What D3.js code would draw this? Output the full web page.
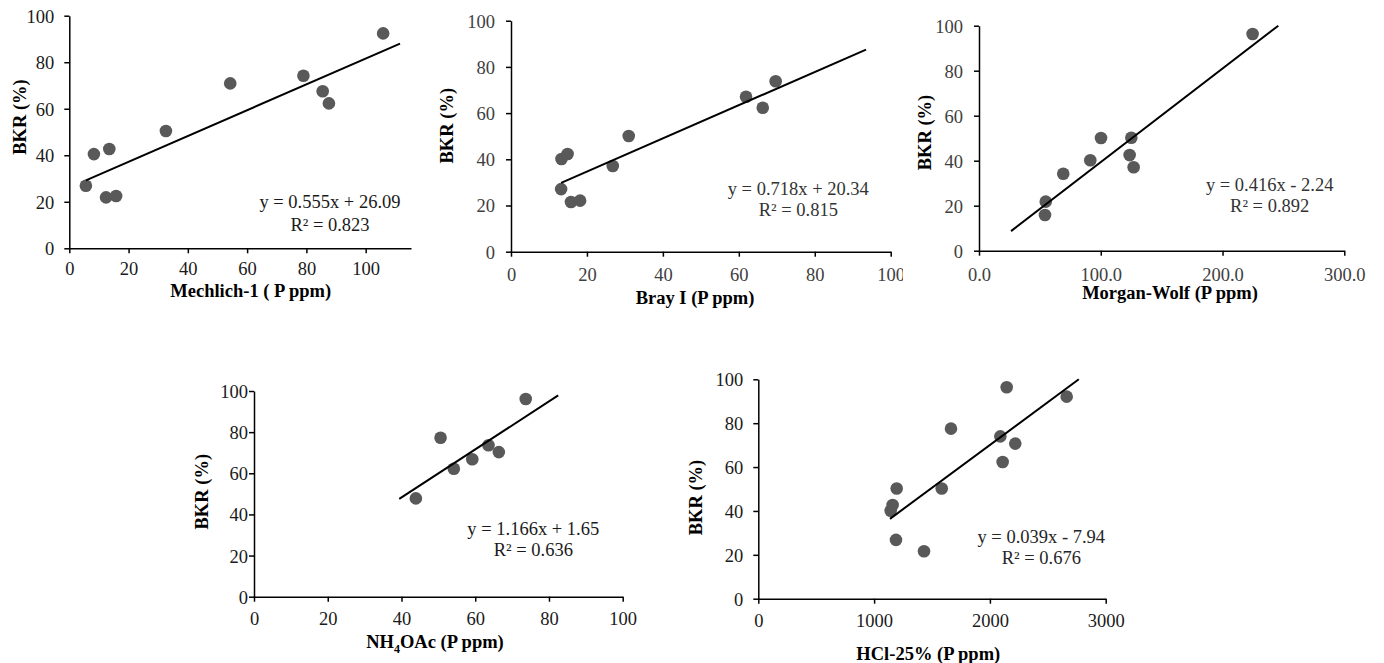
<!DOCTYPE html>
<html>
<head>
<meta charset="utf-8">
<script src="https://cdn.jsdelivr.net/npm/d3@7"></script>
<style>
  html, body { margin: 0; padding: 0; background: #fff; }
  svg { display: block; }
  text { font-family: "Liberation Serif", "Times New Roman", serif; }
</style>
</head>
<body>
<svg id="chart" width="1384" height="663"></svg>
<script>
// ---------------- data ----------------
const mechlichX = [5.6, 8.3, 13.5, 12.4, 15.8, 32.6, 54.3, 79.0, 85.5, 87.6, 105.9];
const mechlichY = [26.9, 40.5, 42.7, 21.9, 22.5, 50.4, 70.9, 74.2, 67.5, 62.3, 92.4];
const brayX = [13.2, 13.3, 14.9, 15.8, 18.2, 26.8, 31.0, 61.9, 66.3, 69.7];
const brayY = [27.1, 40.1, 42.3, 21.5, 22.1, 37.1, 50.1, 67.1, 62.3, 73.8];
const morganX = [54.2, 54.8, 69.2, 91.4, 100.2, 123.7, 125.1, 127.0, 224.7];
const morganY = [15.9, 21.8, 34.2, 40.2, 50.1, 42.5, 50.2, 37.1, 96.3];
const nh4X = [43.9, 50.6, 54.2, 59.2, 63.6, 66.4, 73.7];
const nh4Y = [47.8, 77.3, 62.2, 66.8, 73.6, 70.3, 96.1];
const hclX = [1143, 1160, 1189, 1195, 1431, 1584, 1664, 2090, 2110, 2145, 2219, 2663];
const hclY = [40.1, 42.7, 26.8, 50.2, 21.6, 50.2, 77.5, 74.0, 62.3, 96.4, 70.7, 92.1];

const slopes = [0.555, 0.718, 0.416, 1.166, 0.039];
const intercepts = [26.09, 20.34, -2.24, 1.65, -7.94];
const rSquared = [0.823, 0.815, 0.892, 0.636, 0.676];
const trendFrom = [5.6, 13.2, 26.3, 39.4, 1137];
const trendTo = [111.6, 93.5, 245.8, 82.5, 2768];

const xTitles = ["Mechlich-1 ( P ppm)", "Bray I (P ppm)", "Morgan-Wolf (P ppm)", "NH4OAc (P ppm)", "HCl-25% (P ppm)"];
const yTitle = "BKR (%)";
const yTicks = [0, 20, 40, 60, 80, 100];
const xTicks1 = [0, 20, 40, 60, 80, 100];
const xTicks2 = [0, 20, 40, 60, 80, 100];
const xTicks3 = [0, 100, 200, 300];
const xTicks4 = [0, 20, 40, 60, 80, 100];
const xTicks5 = [0, 1000, 2000, 3000];

// ---------------- layout ----------------
const FS = 18.5;
const panels = [
  { xs: mechlichX, ys: mechlichY, xTicks: xTicks1, xFmt: d3.format("d"),
    xDomain: [0, 115.3], xRange: [69.3, 411], yRange: [248.3, 15.7],
    yLabGap: 15, xLabY: 269, titleY: 291, titleX: 250.7, yTitleX: 19.5, yTitleY: 117,
    eq: [330, 201.7, 225], color: "#1a1a1a", eqColor: "#1a1a1a" },
  { xs: brayX, ys: brayY, xTicks: xTicks2, xFmt: d3.format("d"),
    xDomain: [0, 100], xRange: [511, 890.7], yRange: [251.7, 20.7],
    yLabGap: 16, xLabY: 275, titleY: 297.7, titleX: 695, yTitleX: 447, yTitleY: 125.7,
    eq: [798.3, 189, 210], color: "#404040", eqColor: "#333" },
  { xs: morganX, ys: morganY, xTicks: xTicks3, xFmt: d3.format(".1f"),
    xDomain: [0, 300], xRange: [979, 1344.3], yRange: [250.7, 25.7],
    yLabGap: 16, xLabY: 275, titleY: 292.7, titleX: 1170, yTitleX: 925, yTitleY: 132.5,
    eq: [1269.7, 184.3, 205.7], color: "#404040", eqColor: "#333", cover: true },
  { xs: nh4X, ys: nh4Y, xTicks: xTicks4, xFmt: d3.format("d"),
    xDomain: [0, 100], xRange: [254, 622.7], yRange: [596.7, 391],
    yLabGap: 6, xLabY: 618.3, titleY: 641.7, titleX: 435, yTitleX: 201.7, yTitleY: 491.7,
    eq: [533.3, 528.3, 549.3], color: "#1a1a1a", eqColor: "#1a1a1a", sub: true },
  { xs: hclX, ys: hclY, xTicks: xTicks5, xFmt: d3.format("d"),
    xDomain: [0, 3000], xRange: [758.3, 1105.7], yRange: [598.7, 379.3],
    yLabGap: 15, xLabY: 621, titleY: 653.3, titleX: 928.3, yTitleX: 695.3, yTitleY: 497.5,
    eq: [1041.3, 536.7, 557.3], color: "#1a1a1a", eqColor: "#262626" }
];

const svg = d3.select("#chart");

panels.forEach((p, i) => {
  const g = svg.append("g");
  if (p.cover) {
    g.append("rect").attr("x", 903).attr("y", 0).attr("width", 481).attr("height", 330).attr("fill", "#fff");
  }
  const x = d3.scaleLinear().domain(p.xDomain).range(p.xRange);
  const y = d3.scaleLinear().domain([0, 100]).range(p.yRange);

  const yAx = g.append("g").attr("transform", `translate(${p.xRange[0]},0)`)
    .call(d3.axisLeft(y).tickValues(yTicks).tickSize(5).tickSizeOuter(0).tickPadding(p.yLabGap - 5));
  const xAx = g.append("g").attr("transform", `translate(0,${p.yRange[0]})`)
    .call(d3.axisBottom(x).tickValues(p.xTicks).tickFormat(p.xFmt).tickSize(5).tickSizeOuter(0));

  [yAx, xAx].forEach(ax => {
    ax.select(".domain").attr("stroke", "#000").attr("stroke-width", 1.5);
    ax.selectAll(".tick line").attr("stroke", "#000").attr("stroke-width", 1.5);
    ax.selectAll("text").attr("font-family", '"Liberation Serif", "Times New Roman", serif')
      .attr("font-size", FS).attr("fill", p.color);
  });
  yAx.selectAll(".tick text").attr("dy", "0.35em");
  xAx.selectAll(".tick text").attr("y", p.xLabY - p.yRange[0]).attr("dy", "0.35em");

  g.append("g").selectAll("circle").data(p.xs.map((v, k) => [v, p.ys[k]])).join("circle")
    .attr("cx", d => x(d[0])).attr("cy", d => y(d[1])).attr("r", 6.3).attr("fill", "#595959");

  const f = v => slopes[i] * v + intercepts[i];
  g.append("line")
    .attr("x1", x(trendFrom[i])).attr("y1", y(f(trendFrom[i])))
    .attr("x2", x(trendTo[i])).attr("y2", y(f(trendTo[i])))
    .attr("stroke", "#000").attr("stroke-width", 2);

  const sign = intercepts[i] < 0 ? " - " : " + ";
  const eqStr = `y = ${slopes[i].toFixed(3)}x${sign}${Math.abs(intercepts[i]).toFixed(2)}`;
  g.append("text").attr("x", p.eq[0]).attr("y", p.eq[1]).attr("dy", "0.35em")
    .attr("text-anchor", "middle").attr("font-size", FS).attr("fill", p.eqColor).text(eqStr);
  g.append("text").attr("x", p.eq[0]).attr("y", p.eq[2]).attr("dy", "0.35em")
    .attr("text-anchor", "middle").attr("font-size", FS).attr("fill", p.eqColor)
    .text(`R² = ${rSquared[i].toFixed(3)}`);

  const xt = g.append("text").attr("x", p.titleX).attr("y", p.titleY).attr("dy", "0.35em")
    .attr("text-anchor", "middle").attr("font-size", FS).attr("font-weight", "bold").attr("fill", "#000");
  if (p.sub) {
    xt.append("tspan").text("NH");
    xt.append("tspan").attr("font-size", 12).attr("dy", 5).text("4");
    xt.append("tspan").attr("dy", -5).text("OAc (P ppm)");
  } else {
    xt.text(xTitles[i]);
  }

  g.append("text").attr("transform", `translate(${p.yTitleX},${p.yTitleY}) rotate(-90)`)
    .attr("dy", "0.35em").attr("text-anchor", "middle").attr("font-size", FS)
    .attr("font-weight", "bold").attr("fill", "#000").text(yTitle);
});
</script>
</body>
</html>
